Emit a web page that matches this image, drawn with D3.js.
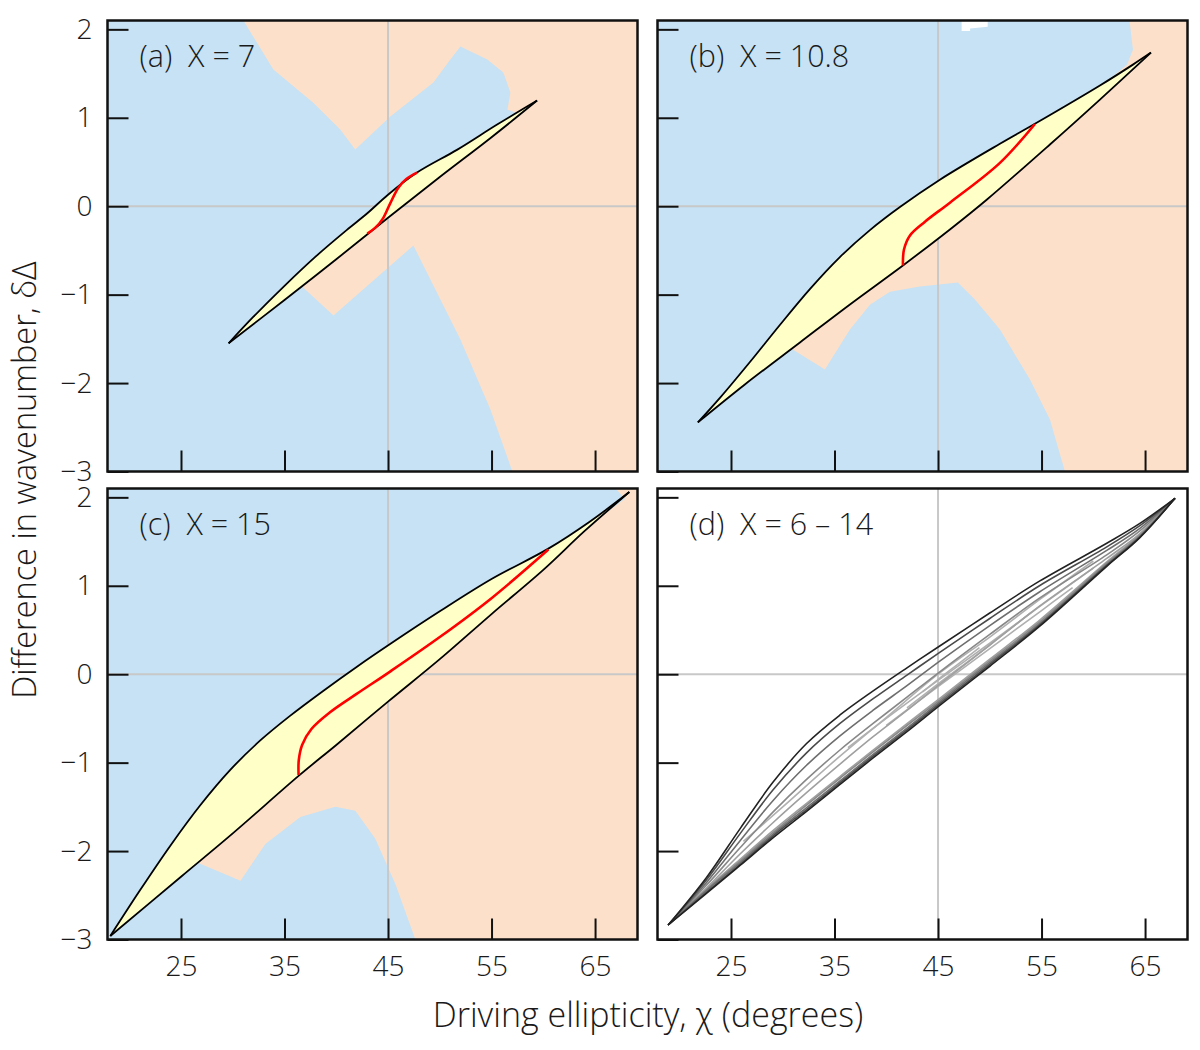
<!DOCTYPE html>
<html>
<head>
<meta charset="utf-8">
<script src="https://cdn.jsdelivr.net/npm/d3@7"></script>
<style>
body { margin: 0; background: #fff; }
text { font-family: "Open Sans", sans-serif; font-weight: 300; fill: #1a1a1a; }
</style>
</head>
<body>
<svg id="chart" width="1200" height="1050"></svg>
<script>
// axes
const xTicks = [25, 35, 45, 55, 65];
const yTicks = [-3, -2, -1, 0, 1, 2];
const xDomain = [17.9, 69.1];
const yDomain = [-3, 2.1];

// (a) X = 7
const upperA = [[29.6,-1.55],[32,-1.25],[35,-0.90],[38,-0.57],[41,-0.27],[43,-0.08],[45,0.13],[47.8,0.38],[51.7,0.64],[55.5,0.92],[59.4,1.195]];
const lowerA = [[29.6,-1.55],[35,-1.06],[40,-0.60],[45,-0.13],[50,0.33],[55,0.78],[59.4,1.195]];
const redA = [[43.0,-0.31],[43.8,-0.24],[44.5,-0.14],[45.2,0.03],[46.0,0.21],[46.8,0.31],[47.8,0.38]];
const peachA = [[31.03,2.1],[33.92,1.545],[37.78,1.171],[40.38,0.866],[41.83,0.641],[45.22,1.015],[49.38,1.40],[51.02,1.66],[51.99,1.806],[54.59,1.66],[56.14,1.512],[56.82,1.284],[56.53,1.092],[57.49,1.05],[47,0.1],[36.53,-0.89],[39.73,-1.236],[47.45,-0.444],[49.09,-0.829],[51.99,-1.507],[54.89,-2.298],[57.01,-3.0],[69.1,-3],[69.1,2.1]];

// (b) X = 10.8
const upperB = [[21.8,-2.445],[23.93,-2.168],[26.83,-1.762],[29.72,-1.343],[32.62,-0.937],[35.52,-0.575],[38.42,-0.27],[41.32,-0.009],[45.18,0.30],[50.98,0.706],[54.36,0.932],[60.64,1.365],[63.83,1.601],[65.57,1.737]];
const lowerB = [[21.8,-2.445],[26.34,-2.016],[31.66,-1.541],[36.49,-1.111],[41.61,-0.67],[46.15,-0.263],[49.73,0.076],[55.81,0.698],[60.64,1.206],[65.57,1.737]];
const redB = [[41.61,-0.67],[41.71,-0.49],[42.29,-0.33],[43.74,-0.175],[46.15,0.04],[50.98,0.49],[54.36,0.93]];
const peachB = [[63.5,2.1],[63.83,1.77],[63.25,1.6],[45.2,-0.15],[30.69,-1.60],[34.07,-1.847],[36.49,-1.395],[38.42,-1.113],[40.35,-0.966],[43.25,-0.909],[46.92,-0.864],[48.56,-1.056],[50.98,-1.395],[53.88,-1.96],[55.81,-2.413],[57.26,-3],[69.1,-3],[69.1,2.1]];
const whiteB = [[47.28,2.1],[47.28,1.98],[48.1,1.98],[48.1,2.01],[49.8,2.03],[49.8,2.1]];

// (c) X = 15
const upperC = [[18.17,-2.96],[21.07,-2.438],[23.97,-1.939],[26.86,-1.482],[29.76,-1.082],[32.66,-0.749],[35.5,-0.474],[38.7,-0.192],[42,0.085],[45.2,0.341],[50,0.711],[55,1.076],[60.49,1.42],[64.55,1.73],[68.31,2.06]];
const lowerC = [[18.17,-2.96],[25,-2.29],[30,-1.80],[36.36,-1.15],[40,-0.80],[45,-0.31],[50,0.17],[55,0.68],[60,1.18],[64,1.62],[68.31,2.06]];
const redC = [[36.36,-1.14],[36.38,-0.97],[36.7,-0.80],[37.6,-0.62],[39.4,-0.43],[42,-0.22],[45.2,0.03],[50,0.42],[55,0.86],[60.49,1.41]];
const peachC = [[66.96,2.1],[67.9,1.985],[45,0.0],[26.39,-2.12],[30.75,-2.337],[33.15,-1.919],[36.53,-1.614],[39.91,-1.5],[41.84,-1.545],[43.77,-1.862],[45.71,-2.371],[47.64,-3],[69.1,-3],[69.1,2.1]];

// (d) X = 6 – 14
const dX = [6, 8, 10, 12, 14];
const dChi = [18.93, 22.6, 25.9, 29.05, 32.3, 35.5, 38.7, 42, 45.2, 50, 54.8, 61.3, 64.5, 67.89];
const dUpper = [
  [-2.836, -2.42, -2.03, -1.68, -1.34, -1.02, -0.71, -0.41, -0.11, 0.33, 0.77, 1.31, 1.59, 1.989],
  [-2.836, -2.39, -1.96, -1.56, -1.19, -0.86, -0.56, -0.26, 0.03, 0.45, 0.86, 1.35, 1.62, 1.989],
  [-2.836, -2.36, -1.88, -1.43, -1.03, -0.70, -0.41, -0.13, 0.15, 0.55, 0.93, 1.40, 1.65, 1.989],
  [-2.836, -2.33, -1.80, -1.31, -0.89, -0.56, -0.28, -0.01, 0.25, 0.63, 1.00, 1.44, 1.68, 1.989],
  [-2.836, -2.304, -1.743, -1.223, -0.784, -0.464, -0.192, 0.072, 0.322, 0.692, 1.052, 1.481, 1.705, 1.989]
];
const dLower = [
  [-2.836, -2.43, -2.09, -1.77, -1.46, -1.16, -0.86, -0.56, -0.27, 0.17, 0.61, 1.27, 1.58, 1.989],
  [-2.836, -2.44, -2.11, -1.79, -1.48, -1.18, -0.88, -0.58, -0.29, 0.15, 0.59, 1.255, 1.57, 1.989],
  [-2.836, -2.45, -2.13, -1.81, -1.51, -1.21, -0.91, -0.61, -0.31, 0.13, 0.57, 1.24, 1.56, 1.989],
  [-2.836, -2.47, -2.15, -1.83, -1.53, -1.23, -0.93, -0.63, -0.33, 0.11, 0.555, 1.23, 1.55, 1.989],
  [-2.836, -2.48, -2.16, -1.85, -1.55, -1.25, -0.95, -0.65, -0.35, 0.09, 0.54, 1.22, 1.545, 1.989]
];
const dMid = [
  [[43.5,-0.2],[45,-0.06],[47,0.12],[49,0.3]],
  [[42,-0.38],[45,-0.11],[50,0.33],[54,0.7]],
  [[40,-0.58],[45,-0.14],[50,0.29],[55,0.72],[58,0.98]],
  [[36.3,-0.83],[40,-0.50],[45,-0.07],[50,0.35],[55,0.78],[60,1.2]],
  [[26.2,-1.89],[30,-1.50],[35,-0.98],[40,-0.49],[45,0.0],[50,0.42],[55,0.86],[60,1.28]]
];

const W = 530, H = 451;
const colX = [107.5, 657.5], rowY = [20.5, 488.5];
const blue = "#c6e2f4", peach = "#fde0c9", yellow = "#ffffc8";

const x = d3.scaleLinear().domain(xDomain).range([0, W]);
const y = d3.scaleLinear().domain(yDomain).range([H, 0]);
const smooth = d3.line().x(d => x(d[0])).y(d => y(d[1])).curve(d3.curveCatmullRom);
const poly = d3.line().x(d => x(d[0])).y(d => y(d[1]));
const fmt = d => d < 0 ? "\u2212" + Math.abs(d) : String(d);

const panels = [
  {key: "a", label: "(a)  X = 7", col: 0, row: 0, upper: upperA, lower: lowerA, red: redA, peach: peachA, white: null},
  {key: "b", label: "(b)  X = 10.8", col: 1, row: 0, upper: upperB, lower: lowerB, red: redB, peach: peachB, white: whiteB},
  {key: "c", label: "(c)  X = 15", col: 0, row: 1, upper: upperC, lower: lowerC, red: redC, peach: peachC, white: null},
  {key: "d", label: "(d)  X = 6 \u2013 14", col: 1, row: 1}
];

const svg = d3.select("#chart");
const defs = svg.append("defs");

panels.forEach(p => {
  const g = svg.append("g").attr("transform", `translate(${colX[p.col]},${rowY[p.row]})`);
  defs.append("clipPath").attr("id", "clip-" + p.key)
    .append("rect").attr("width", W).attr("height", H);
  const body = g.append("g").attr("clip-path", `url(#clip-${p.key})`);

  if (p.key !== "d") {
    body.append("rect").attr("width", W).attr("height", H).attr("fill", blue);
    body.append("path").attr("d", poly(p.peach) + "Z").attr("fill", peach);
    if (p.white) body.append("path").attr("d", poly(p.white) + "Z").attr("fill", "#fff");
  }

  // grid at 45 and 0
  body.append("line").attr("x1", x(45)).attr("x2", x(45)).attr("y1", 0).attr("y2", H)
    .attr("stroke", "#c8c8c8").attr("stroke-width", 2);
  body.append("line").attr("x1", 0).attr("x2", W).attr("y1", y(0)).attr("y2", y(0))
    .attr("stroke", "#c8c8c8").attr("stroke-width", 2);

  if (p.key !== "d") {
    const lowRev = p.lower.slice().reverse();
    const area = smooth(p.upper) + smooth(lowRev).replace(/^M/, "L") + "Z";
    body.append("path").attr("d", area).attr("fill", yellow).attr("stroke", "none");
    body.append("path").attr("d", smooth(p.upper)).attr("fill", "none").attr("stroke", "#000").attr("stroke-width", 1.8);
    body.append("path").attr("d", smooth(p.lower)).attr("fill", "none").attr("stroke", "#000").attr("stroke-width", 1.8);
    body.append("path").attr("d", smooth(p.red)).attr("fill", "none").attr("stroke", "#ff0000").attr("stroke-width", 2.6);
  } else {
    const greys = ["#a0a0a0", "#888", "#6e6e6e", "#4a4a4a", "#222"];
    dX.forEach((v, i) => {
      body.append("path").attr("d", smooth(dMid[i]))
        .attr("fill", "none").attr("stroke", "#b0b0b0").attr("stroke-width", 1.6);
    });
    dX.forEach((v, i) => {
      body.append("path").attr("d", smooth(dChi.map((c, j) => [c, dUpper[i][j]])))
        .attr("fill", "none").attr("stroke", greys[i]).attr("stroke-width", 1.6);
      body.append("path").attr("d", smooth(dChi.map((c, j) => [c, dLower[i][j]])))
        .attr("fill", "none").attr("stroke", greys[i]).attr("stroke-width", 1.6);
    });
  }

  // axes with inward ticks
  const ya = d3.axisLeft(y).tickValues(yTicks).tickSize(-21).tickPadding(15)
    .tickFormat(p.col === 0 ? fmt : "");
  const yg = g.append("g").call(ya);
  const xa = d3.axisBottom(x).tickValues(xTicks).tickSize(-21).tickPadding(17)
    .tickFormat(p.row === 1 ? d3.format("d") : "");
  const xg = g.append("g").attr("transform", `translate(0,${H})`).call(xa);
  [yg, xg].forEach(a => {
    a.select(".domain").remove();
    a.selectAll(".tick line").attr("stroke", "#111").attr("stroke-width", 2);
    a.selectAll(".tick text").attr("font-size", 28).attr("fill", "#1a1a1a")
      .style("font-family", '"Open Sans", sans-serif').style("font-weight", 300);
  });

  g.append("rect").attr("width", W).attr("height", H)
    .attr("fill", "none").attr("stroke", "#111").attr("stroke-width", 2.5);

  g.append("text").attr("x", 32).attr("y", 46).attr("font-size", 30.5)
    .style("white-space", "pre").text(p.label);
});

svg.append("text").attr("x", 648).attr("y", 1027).attr("text-anchor", "middle")
  .attr("font-size", 34).text("Driving ellipticity, \u03c7 (degrees)");
svg.append("text").attr("transform", "translate(36,480) rotate(-90)").attr("text-anchor", "middle")
  .attr("font-size", 32.5).text("Difference in wavenumber, \u03b4\u0394");
</script>
</body>
</html>
